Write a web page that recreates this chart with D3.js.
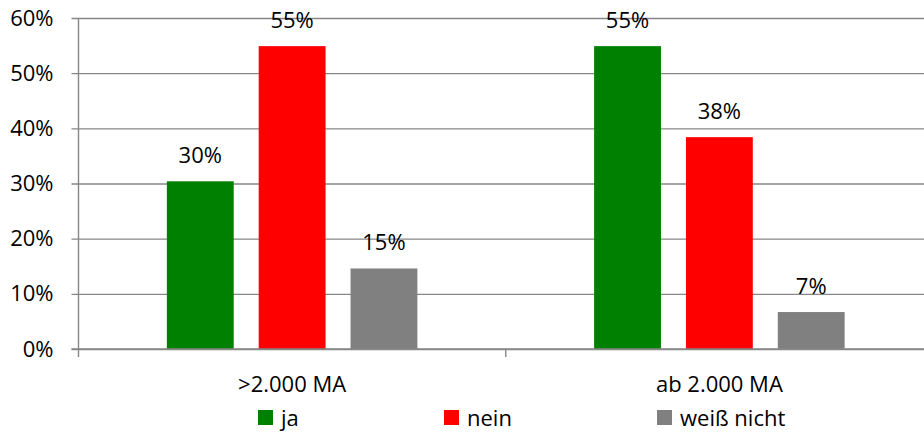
<!DOCTYPE html>
<html>
<head>
<meta charset="utf-8">
<script src="https://cdn.jsdelivr.net/npm/d3@7"></script>
<style>
  html, body { margin: 0; padding: 0; background: #fff; }
  svg { display: block; }
  text { font-family: "Open Sans", "Noto Sans", sans-serif; fill: #000; }
</style>
</head>
<body>
<svg id="chart" width="924" height="432"></svg>
<script>
// Umfrage: Antworten nach Unternehmensgröße
const categories = [">2.000 MA", "ab 2.000 MA"];
const seriesNames = ["ja", "nein", "weiß nicht"];
const ja = [0.304, 0.549];
const nein = [0.549, 0.384];
const weissNicht = [0.146, 0.067];
const seriesColors = ["#008000", "#ff0000", "#808080"];
const yTicks = [0, 0.1, 0.2, 0.3, 0.4, 0.5, 0.6];

const seriesValues = [ja, nein, weissNicht];
const W = 924, H = 432;
const axisX = 78.5, plotRight = 933, yBottom = 349, yTop = 18;
const fontSize = 22;
const axisColor = "#878787";

const svg = d3.select("#chart");

const x0 = d3.scaleBand().domain(categories).range([axisX, plotRight]);
const x1 = d3.scaleBand().domain(seriesNames).range([0, x0.bandwidth()])
  .paddingInner(0.272).paddingOuter(0.962);
const y = d3.scaleLinear().domain([0, 0.6]).range([yBottom, yTop]);
const color = d3.scaleOrdinal().domain(seriesNames).range(seriesColors);
const pct = d3.format(".0%");

// y axis with gridlines spanning the plot
const yAxis = svg.append("g")
  .attr("transform", `translate(${axisX},0)`)
  .call(d3.axisLeft(y).tickValues(yTicks).tickFormat(pct).tickSize(7).tickPadding(18));
yAxis.select(".domain").remove();
yAxis.selectAll(".tick line")
  .attr("x1", W - axisX)
  .attr("x2", -7)
  .attr("stroke", axisColor)
  .attr("stroke-width", 1.4);
yAxis.selectAll(".tick text")
  .style("font-size", fontSize + "px")
  .style("font-family", '"Open Sans", sans-serif')
  .attr("fill", "#000");

// vertical axis line
svg.append("line")
  .attr("x1", axisX).attr("x2", axisX)
  .attr("y1", yTop).attr("y2", yBottom + 8)
  .attr("stroke", axisColor).attr("stroke-width", 1.4);

// category boundary ticks
const bounds = categories.map(c => x0(c) + x0.bandwidth());
svg.selectAll("line.cat-tick").data(bounds).join("line")
  .attr("class", "cat-tick")
  .attr("x1", d => d).attr("x2", d => d)
  .attr("y1", yBottom).attr("y2", yBottom + 8)
  .attr("stroke", axisColor).attr("stroke-width", 1.4);

// bars
const groups = svg.selectAll("g.cat").data(categories).join("g")
  .attr("class", "cat")
  .attr("transform", c => `translate(${x0(c)},0)`);

const barData = (c, i) => seriesNames.map((s, k) => ({ s, v: seriesValues[k][i] }));

groups.each(function (c, i) {
  const g = d3.select(this);
  const data = barData(c, i);
  g.selectAll("rect").data(data).join("rect")
    .attr("x", d => x1(d.s))
    .attr("width", x1.bandwidth())
    .attr("y", d => y(d.v))
    .attr("height", d => y(0) - y(d.v))
    .attr("fill", d => color(d.s));
  g.selectAll("text.val").data(data).join("text")
    .attr("class", "val")
    .attr("x", d => x1(d.s) + x1.bandwidth() / 2)
    .attr("y", d => y(d.v) - 18)
    .attr("text-anchor", "middle")
    .style("font-size", fontSize + "px")
    .text(d => pct(d.v));
});

// x axis line (drawn over bar bottoms)
svg.append("line")
  .attr("x1", axisX - 7).attr("x2", W)
  .attr("y1", yBottom).attr("y2", yBottom)
  .attr("stroke", axisColor).attr("stroke-width", 1.4);

// category labels
svg.selectAll("text.cat-label").data(categories).join("text")
  .attr("class", "cat-label")
  .attr("x", c => x0(c) + x0.bandwidth() / 2)
  .attr("y", 392)
  .attr("text-anchor", "middle")
  .style("font-size", fontSize + "px")
  .text(c => c);

// legend
const legendX = [258, 444, 657];
const legend = svg.selectAll("g.legend").data(seriesNames).join("g")
  .attr("class", "legend")
  .attr("transform", (s, i) => `translate(${legendX[i]},410)`);
legend.append("rect")
  .attr("width", 15).attr("height", 15)
  .attr("fill", s => color(s));
legend.append("text")
  .attr("x", 23).attr("y", 16)
  .style("font-size", fontSize + "px")
  .text(s => s);
</script>
</body>
</html>
